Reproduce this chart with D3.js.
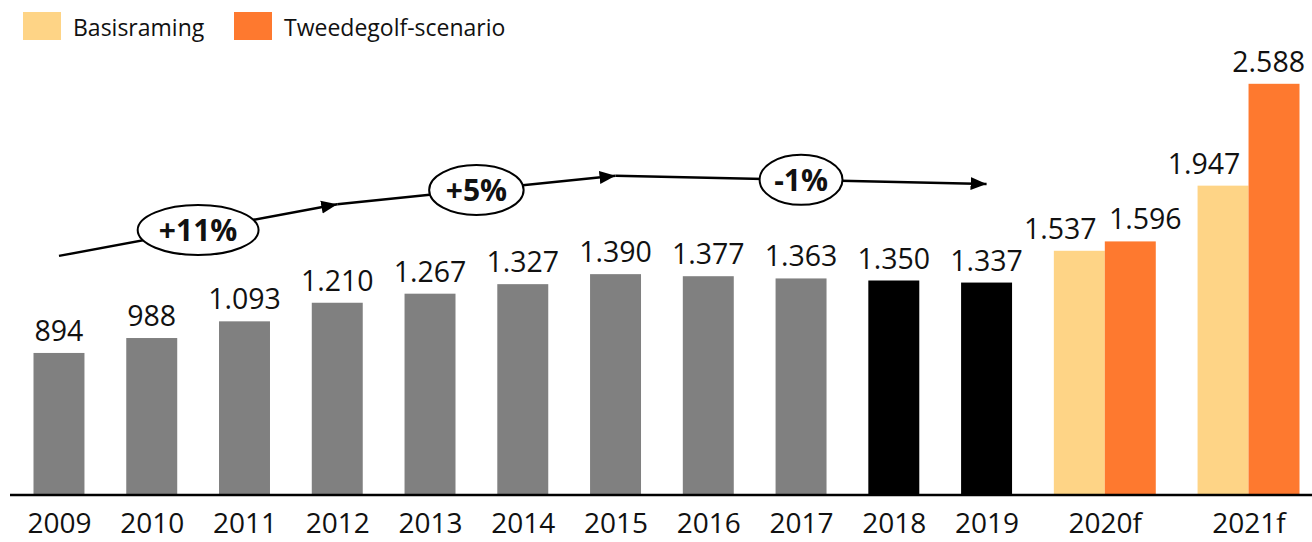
<!DOCTYPE html>
<html>
<head>
<meta charset="utf-8">
<script src="https://cdn.jsdelivr.net/npm/d3@7"></script>
<style>
  body { margin: 0; background: #fff; }
  svg { display: block; font-family: "Open Sans", "Noto Sans", sans-serif; }
</style>
</head>
<body>
<svg id="chart" width="1312" height="542"></svg>
<script>
// categories and values
const categories = ['2009', '2010', '2011', '2012', '2013', '2014', '2015', '2016', '2017', '2018', '2019', '2020f', '2021f'];
const kinds = ['hist', 'hist', 'hist', 'hist', 'hist', 'hist', 'hist', 'hist', 'hist', 'recent', 'recent', 'forecast', 'forecast'];
const basisraming = [894, 988, 1093, 1210, 1267, 1327, 1390, 1377, 1363, 1350, 1337, 1537, 1947];
const tweedegolf = [null, null, null, null, null, null, null, null, null, null, null, 1596, 2588];

// growth arrows: chain of points (category, level on value axis) and labels per segment
const arrowCats = ['2009', '2012', '2015', '2019'];
const arrowLevels = [1505, 1830, 2009, 1958];
const growthLabels = ['+11%', '+5%', '-1%'];

const legendNames = ['Basisraming', 'Tweedegolf-scenario'];

const colors = { hist: '#808080', recent: '#000000', basis: '#FED486', scen: '#FE792F' };

const width = 1312, height = 542;
const svg = d3.select('#chart');

const nl = d3.formatLocale({ decimal: ',', thousands: '.', grouping: [3], currency: ['€', ''] });
const fmt = nl.format(',d');

// layout in "bar units": each bar is 1 unit, gap between categories is gapU units
const gapU = 0.82;
const rows = categories.map((c, i) => ({
    cat: c,
    kind: kinds[i],
    vals: tweedegolf[i] == null ? [{ key: 'main', v: basisraming[i] }] : [{ key: 'basis', v: basisraming[i] }, { key: 'scen', v: tweedegolf[i] }]
}));
let pos = 0;
rows.forEach((r, i) => {
    r.start = pos;
    pos += r.vals.length + (i < rows.length - 1 ? gapU : 0);
});
const totalU = pos;

const xu = d3.scaleLinear().domain([0, totalU]).range([33.5, 1299.5]);
const bw = xu(1) - xu(0);
const y = d3.scaleLinear().domain([0, 2700]).range([495, 66]);

const xCenter = d3.scaleOrdinal()
    .domain(categories)
    .range(rows.map(r => xu(r.start + r.vals.length / 2)));

// bars
const bars = [];
rows.forEach(r => {
    r.vals.forEach((d, j) => {
        bars.push({ cat: r.cat, kind: r.kind, key: d.key, v: d.v, x: xu(r.start + j), n: r.vals.length, j: j });
    });
});

function barColor(d) {
    if (d.key === 'basis') return colors.basis;
    if (d.key === 'scen') return colors.scen;
    return colors[d.kind];
}

svg.append('g')
    .selectAll('rect')
    .data(bars)
    .join('rect')
    .attr('x', d => d.x)
    .attr('y', d => y(d.v))
    .attr('width', bw)
    .attr('height', d => y(0) - y(d.v))
    .attr('fill', barColor);

// value labels
const labels = svg.append('g')
    .attr('font-size', 28.5)
    .attr('fill', '#111')
    .attr('text-anchor', 'middle')
    .selectAll('text')
    .data(bars)
    .join('text')
    .attr('x', d => {
        let cx = d.x + bw / 2;
        if (d.n > 1) cx += d.j === 0 ? -19 : 15;
        return cx;
    })
    .attr('y', d => y(d.v) - 12)
    .text(d => fmt(d.v));

// keep labels inside the right edge
labels.each(function () {
    const w = this.getComputedTextLength();
    const cx = +this.getAttribute('x');
    if (cx + w / 2 > width - 7) this.setAttribute('x', width - 7 - w / 2);
});

// x axis
const axis = d3.axisBottom(xCenter).tickSize(0).tickPadding(18);
const gx = svg.append('g')
    .attr('transform', `translate(0,${y(0)})`)
    .call(axis);
gx.select('.domain').remove();
gx.selectAll('text')
    .attr('font-size', 28)
    .attr('font-family', '"Open Sans", sans-serif')
    .attr('fill', '#111');

svg.append('line')
    .attr('x1', 10).attr('x2', width)
    .attr('y1', y(0)).attr('y2', y(0))
    .attr('stroke', '#000')
    .attr('stroke-width', 2.5);

// arrow marker
svg.append('defs').append('marker')
    .attr('id', 'arrowhead')
    .attr('viewBox', '0 -7 16 14')
    .attr('refX', 16)
    .attr('refY', 0)
    .attr('markerWidth', 16)
    .attr('markerHeight', 14)
    .attr('markerUnits', 'userSpaceOnUse')
    .attr('orient', 'auto')
    .append('path')
    .attr('d', 'M0,-6.5L16,0L0,6.5Z')
    .attr('fill', '#000');

const pts = arrowCats.map((c, i) => [xCenter(c), y(arrowLevels[i])]);
const segs = growthLabels.map((lab, i) => ({ lab: lab, a: pts[i], b: pts[i + 1] }));

const gArr = svg.append('g');
gArr.selectAll('line')
    .data(segs)
    .join('line')
    .attr('x1', d => d.a[0]).attr('y1', d => d.a[1])
    .attr('x2', d => d.b[0]).attr('y2', d => d.b[1])
    .attr('stroke', '#000')
    .attr('stroke-width', 2.5)
    .attr('marker-end', 'url(#arrowhead)');

const bubble = gArr.selectAll('g.bubble')
    .data(segs)
    .join('g')
    .attr('class', 'bubble')
    .attr('transform', d => `translate(${(d.a[0] + d.b[0]) / 2},${(d.a[1] + d.b[1]) / 2})`);

bubble.append('ellipse')
    .attr('fill', '#fff')
    .attr('stroke', '#000')
    .attr('stroke-width', 2)
    .attr('ry', 25);

bubble.append('text')
    .attr('text-anchor', 'middle')
    .attr('dy', '0.36em')
    .attr('font-size', 30)
    .attr('font-weight', 'bold')
    .attr('fill', '#111')
    .text(d => d.lab);

bubble.each(function () {
    const t = d3.select(this).select('text').node();
    d3.select(this).select('ellipse').attr('rx', t.getComputedTextLength() * 0.77);
});

// legend
const legend = svg.append('g')
    .selectAll('g')
    .data(legendNames)
    .join('g')
    .attr('transform', (d, i) => `translate(${i === 0 ? 23 : 234},12)`);
legend.append('rect')
    .attr('width', 38)
    .attr('height', 28)
    .attr('fill', (d, i) => i === 0 ? colors.basis : colors.scen);
legend.append('text')
    .attr('x', 50)
    .attr('y', 24)
    .attr('font-size', 23)
    .attr('fill', '#111')
    .text(d => d);
</script>
</body>
</html>
